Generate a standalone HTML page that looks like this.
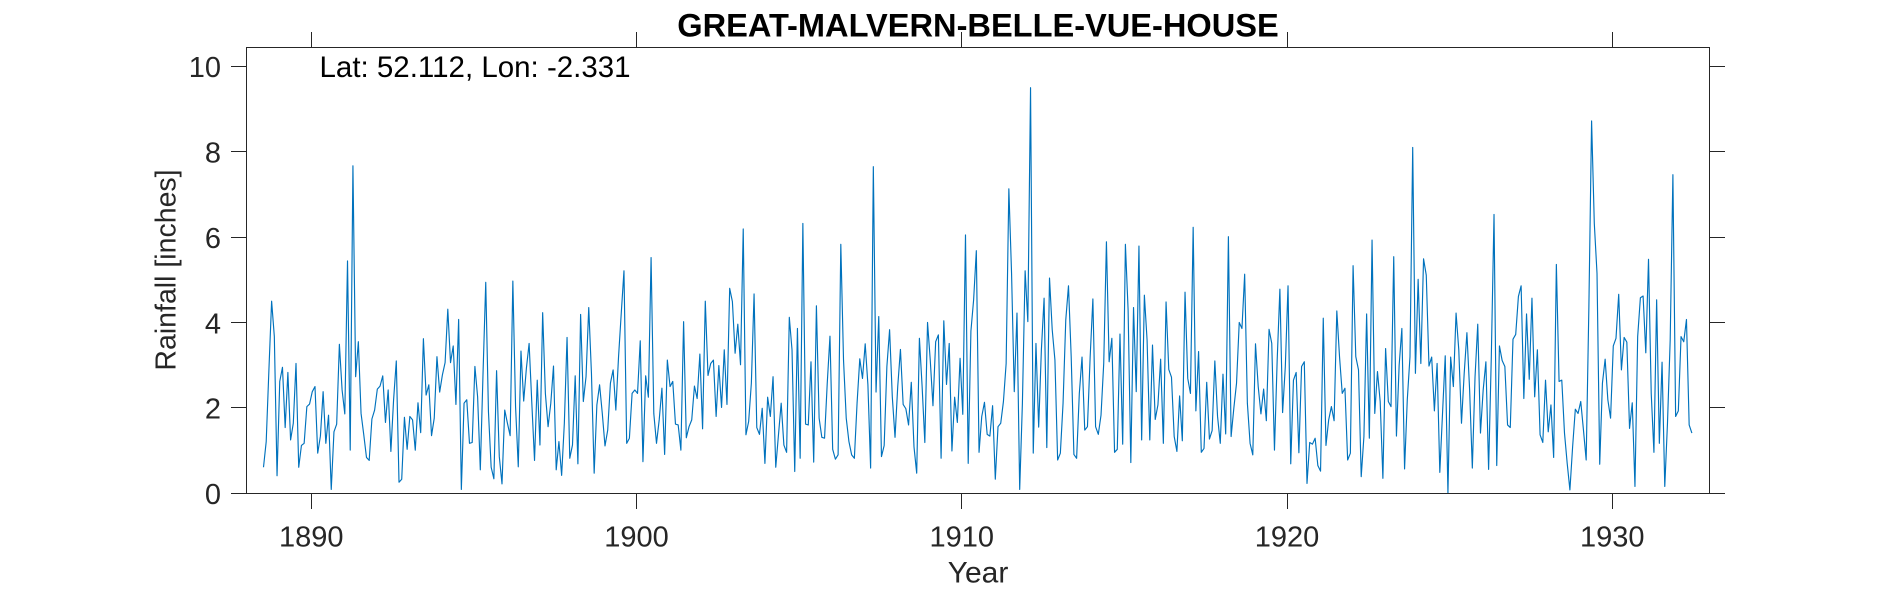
<!DOCTYPE html>
<html lang="en">
<head>
<meta charset="utf-8">
<title>GREAT-MALVERN-BELLE-VUE-HOUSE</title>
<style>
html,body{margin:0;padding:0;background:#fff;width:1890px;height:591px;overflow:hidden}
svg{display:block;font-family:"Liberation Sans",Arial,sans-serif}
.tick{fill:#262626;font-size:29px}
.ax{stroke:#262626;stroke-width:1;fill:none}
</style>
</head>
<body>
<svg id="chart" xmlns="http://www.w3.org/2000/svg" width="1890" height="591" viewBox="0 0 1890 591">
  <rect x="0" y="0" width="1890" height="591" fill="#fff"/>
  <g id="ticks"></g>
  <path id="series" fill="none" stroke="#0072BD" stroke-width="1.15" stroke-linejoin="round"/>
  <rect class="ax" x="246.5" y="47.5" width="1463" height="446"/>
  <text x="978" y="36.5" text-anchor="middle" font-size="32.6" font-weight="700" fill="#000">GREAT-MALVERN-BELLE-VUE-HOUSE</text>
  <text x="319.5" y="77" font-size="29.5" fill="#000">Lat: 52.112, Lon: -2.331</text>
  <text transform="translate(175.5 270) rotate(-90)" text-anchor="middle" font-size="28.5" fill="#262626">Rainfall [inches]</text>
  <text x="978" y="582.5" text-anchor="middle" font-size="30" fill="#262626">Year</text>
</svg>
<script>
const xTickLabels = ["1890","1900","1910","1920","1930"];
const yTickLabels = ["0","2","4","6","8","10"];
const startYear = 1888.53;
const monthsPerYear = 12;
const rainfall = [
0.61,1.21,2.89,4.50,3.67,0.41,2.62,2.95,1.54,2.83,1.25,1.64,3.04,0.61,1.12,1.17,2.03,2.09,2.38,2.50,
0.94,1.34,2.38,1.17,1.83,0.09,1.44,1.62,3.49,2.42,1.86,5.44,1.01,7.67,2.73,3.55,1.87,1.37,0.84,0.77,
1.74,1.95,2.44,2.51,2.75,1.66,2.42,0.98,2.19,3.10,0.26,0.33,1.78,1.03,1.80,1.72,1.01,2.12,1.42,3.62,
2.30,2.54,1.35,1.76,3.20,2.37,2.77,3.06,4.31,3.06,3.45,2.08,4.07,0.09,2.11,2.19,1.17,1.19,2.97,2.26,
0.55,2.81,4.94,1.91,0.61,0.34,2.87,0.86,0.22,1.95,1.64,1.35,4.97,2.03,0.62,3.33,2.16,2.93,3.51,2.11,
0.77,2.65,1.13,4.23,2.34,1.56,2.11,2.98,0.55,1.21,0.42,1.64,3.65,0.82,1.13,2.75,0.69,4.19,2.15,2.73,
4.35,2.81,0.47,2.07,2.54,1.87,1.11,1.48,2.58,2.89,1.95,3.20,4.22,5.21,1.17,1.29,2.34,2.42,2.34,3.57,
0.74,2.75,2.25,5.52,1.87,1.17,1.72,2.46,0.91,3.12,2.50,2.62,1.62,1.60,1.01,4.02,1.30,1.56,1.72,2.51,
2.22,3.26,1.51,4.50,2.76,3.04,3.12,1.80,2.99,2.01,3.36,2.08,4.80,4.49,3.28,3.96,3.01,6.19,1.37,1.68,
2.58,4.67,1.54,1.38,1.99,0.70,2.25,1.80,2.73,0.61,1.37,2.11,1.13,0.96,4.12,3.36,0.51,3.86,0.82,6.32,
1.62,1.60,3.08,0.73,4.39,1.76,1.31,1.29,2.58,3.68,1.03,0.80,0.90,5.83,3.12,1.76,1.21,0.90,0.82,2.11,
3.15,2.69,3.50,2.54,0.59,7.65,2.37,4.14,0.86,1.12,2.97,3.83,2.26,1.31,2.50,3.37,2.08,1.98,1.60,2.60,
1.09,0.47,3.63,2.50,1.19,4.00,3.12,2.05,3.55,3.71,0.82,4.04,2.55,3.51,0.99,2.25,1.66,3.16,1.85,6.05,
0.70,3.80,4.53,5.68,0.96,1.80,2.13,1.38,1.34,2.05,0.33,1.56,1.64,2.15,3.04,7.13,5.15,2.38,4.22,0.09,
2.11,5.21,4.02,9.50,0.94,3.51,1.55,3.36,4.57,1.07,5.04,3.83,3.12,0.78,0.94,2.11,4.06,4.86,3.20,0.91,
0.82,2.34,3.19,1.48,1.56,3.20,4.55,1.56,1.38,1.83,3.04,5.89,3.08,3.63,0.96,1.03,3.73,1.15,5.83,4.29,
0.72,4.35,2.38,5.79,1.25,4.64,3.59,1.25,3.47,1.73,2.07,3.14,1.17,4.48,2.90,2.72,1.33,0.98,2.28,1.23,
4.71,2.69,2.34,6.23,1.93,3.32,0.96,1.05,2.60,1.27,1.47,3.10,1.80,1.17,2.79,1.39,6.01,1.33,1.99,2.58,
4.00,3.86,5.13,2.11,1.17,0.90,3.50,2.50,1.86,2.44,1.70,3.84,3.51,1.01,3.12,4.78,1.89,2.97,4.86,0.69,
2.65,2.83,0.95,2.97,3.08,0.23,1.19,1.15,1.29,0.65,0.52,4.10,1.12,1.72,2.03,1.70,4.27,3.20,2.34,2.46,
0.78,0.94,5.33,3.20,2.89,0.39,1.33,4.20,1.29,5.93,1.87,2.85,2.15,0.35,3.39,2.15,2.03,5.54,1.34,3.00,
3.86,0.57,2.19,3.20,8.10,2.81,5.01,3.04,5.49,5.11,2.98,3.19,1.93,3.04,0.49,1.87,3.22,0.00,3.19,2.50,
4.22,3.36,1.64,2.81,3.76,2.42,0.59,2.73,3.96,1.41,2.42,3.08,0.56,3.20,6.53,0.65,3.45,3.11,2.97,1.60,
1.54,3.61,3.72,4.61,4.86,2.22,4.20,2.67,4.57,2.26,3.36,1.37,1.19,2.65,1.44,2.07,0.84,5.36,2.62,2.65,
1.41,0.70,0.08,1.09,1.97,1.87,2.15,1.48,0.78,4.37,8.72,6.32,5.15,0.68,2.58,3.14,2.19,1.76,3.45,3.63,
4.66,2.89,3.65,3.54,1.52,2.12,0.16,3.67,4.58,4.62,3.29,5.48,2.34,0.96,4.53,1.17,3.07,0.16,1.64,3.59,
7.46,1.80,1.93,3.67,3.55,4.07,1.60,1.41
];

const SVGNS = "http://www.w3.org/2000/svg";
function xScale(year){ return 311.3 + (year - 1890) * 32.525; }
function yScale(v){ return 493.3 - v * 42.7; }
function crisp(p){ return Math.floor(p) + 0.5; }

const tickGroup = document.getElementById("ticks");
function addLine(x1,y1,x2,y2){
  const l = document.createElementNS(SVGNS,"line");
  l.setAttribute("x1",x1); l.setAttribute("y1",y1);
  l.setAttribute("x2",x2); l.setAttribute("y2",y2);
  l.setAttribute("class","ax");
  
  
  tickGroup.appendChild(l);
}
function addLabel(x,y,anchor,str){
  const t = document.createElementNS(SVGNS,"text");
  t.setAttribute("x",x); t.setAttribute("y",y);
  t.setAttribute("text-anchor",anchor);
  t.setAttribute("class","tick");
  
  
  t.textContent = str;
  tickGroup.appendChild(t);
}
xTickLabels.forEach(function(lab){
  const px = crisp(xScale(Number(lab)));
  addLine(px,32,px,47.5);
  addLine(px,493.5,px,509);
  addLabel(xScale(Number(lab)),546.5,"middle",lab);
});
yTickLabels.forEach(function(lab){
  const py = crisp(yScale(Number(lab)));
  addLine(231,py,246.5,py);
  addLine(1709.5,py,1725,py);
  addLabel(221,yScale(Number(lab))+10.8,"end",lab);
});
let d = "";
rainfall.forEach(function(v,i){
  const px = xScale(startYear + i / monthsPerYear);
  const py = yScale(v);
  d += (i === 0 ? "M" : "L") + px.toFixed(2) + " " + py.toFixed(2);
});
document.getElementById("series").setAttribute("d", d);
</script>
</body>
</html>
